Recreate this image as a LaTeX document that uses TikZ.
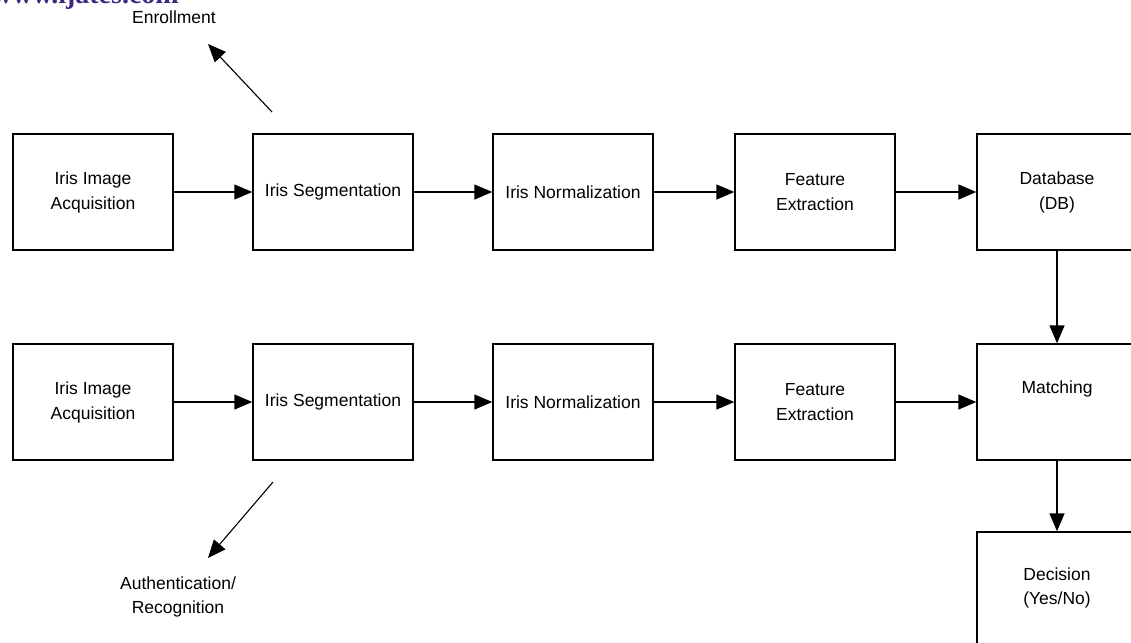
\documentclass[tikz,border=0pt]{standalone}
\usepackage{fontspec}
\setmainfont{Liberation Sans}
\newfontfamily\hdrfont{Liberation Serif}
\usetikzlibrary{arrows.meta}
\definecolor{hdrpurple}{RGB}{62,40,128}
\begin{document}
\begin{tikzpicture}[x=1pt,y=-1pt,
  box/.style={draw,line width=1.4pt,minimum width=160pt,minimum height=116pt,inner sep=0pt,
    align=center,font=\fontsize{17.5}{25}\selectfont},
  lbl/.style={align=center,font=\fontsize{17.5}{24}\selectfont,inner sep=0pt},
  arr/.style={line width=1.4pt,-{Triangle[length=18pt,width=15pt]}}]
\useasboundingbox (0,0) rectangle (1131,642);
\clip (0,0) rectangle (1131,642);
% header remnant
\node[anchor=base west,inner sep=0pt,text=hdrpurple,font=\hdrfont\bfseries\fontsize{28}{28}\selectfont] (hdr) at (-8,4) {www.ijates.com};
% row 1
\node[box] (a1) at (93,192) {Iris Image\\Acquisition};
\node[box] (b1) at (333,192) {Iris Segmentation};
\node[box] (c1) at (573,192) {Iris Normalization};
\node[box] (d1) at (815,192) {Feature\\Extraction};
\node[box] (e1) at (1057,192) {Database\\(DB)};
% row 2
\node[box] (a2) at (93,402) {Iris Image\\Acquisition};
\node[box] (b2) at (333,402) {Iris Segmentation};
\node[box] (c2) at (573,402) {Iris Normalization};
\node[box] (d2) at (815,402) {Feature\\Extraction};
\node[box] (e2) at (1057,402) {};
\node[lbl] (e2t) at (1057,389) {Matching};
\node[box] (f2) at (1057,590) {};
\node[lbl] (f2t) at (1057,588) {Decision\\(Yes/No)};
% arrows
\draw[arr] (a1) -- (b1);
\draw[arr] (b1) -- (c1);
\draw[arr] (c1) -- (d1);
\draw[arr] (d1) -- (e1);
\draw[arr] (a2) -- (b2);
\draw[arr] (b2) -- (c2);
\draw[arr] (c2) -- (d2);
\draw[arr] (d2) -- (e2);
\draw[arr] (e1) -- (e2);
\draw[arr] (e2) -- (f2);
% enrollment / authentication
\node[lbl] (enr) at (174,17) {Enrollment};
\coordinate (enrS) at (272,112);
\coordinate (enrE) at (208,44);
\draw[arr,line width=1.1pt] (enrS) -- (enrE);
\node[lbl] (auth) at (178,597) {Authentication/\\Recognition};
\coordinate (autS) at (273,482);
\coordinate (autE) at (208,558);
\draw[arr,line width=1.1pt] (autS) -- (autE);
\end{tikzpicture}
\end{document}
